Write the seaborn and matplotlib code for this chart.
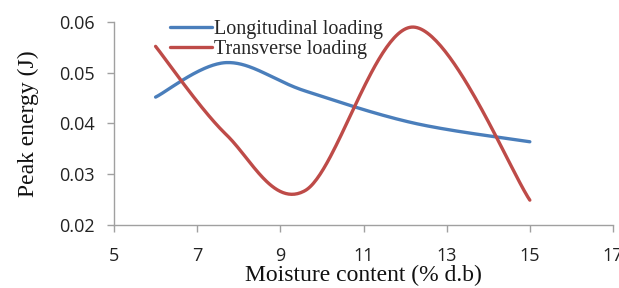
import numpy as np
import pandas as pd
import matplotlib
matplotlib.use('Agg')
import matplotlib.pyplot as plt
import seaborn as sns

# values
moisture = [6.0, 7.7, 9.6, 12.2, 15.0]
longitudinal = [0.0452, 0.0520, 0.0464, 0.0401, 0.0364]
transverse = [0.0552, 0.0378, 0.0268, 0.0590, 0.0249]
x_ticks = [5, 7, 9, 11, 13, 15, 17]
y_ticks = [0.02, 0.03, 0.04, 0.05, 0.06]


def smooth_curve(xs, ys, n=60):
    """Excel-style smoothed line (Catmull-Rom through the data points)"""
    pts = np.column_stack([xs, ys]).astype(float)
    padded = np.vstack([pts[0], pts, pts[-1]])
    t = np.linspace(0, 1, n)[:, None]
    out = []
    for i in range(len(pts) - 1):
        p0, p1, p2, p3 = padded[i], padded[i + 1], padded[i + 2], padded[i + 3]
        b1 = p1 + (p2 - p0) / 6
        b2 = p2 - (p3 - p1) / 6
        seg = ((1 - t) ** 3 * p1 + 3 * (1 - t) ** 2 * t * b1
               + 3 * (1 - t) * t ** 2 * b2 + t ** 3 * p2)
        out.append(seg if i == 0 else seg[1:])
    out = np.vstack(out)
    return out[:, 0], out[:, 1]


frames = []
for name, vals in [('Longitudinal loading', longitudinal),
                   ('Transverse loading', transverse)]:
    sx, sy = smooth_curve(moisture, vals)
    frames.append(pd.DataFrame({'x': sx, 'y': sy, 'series': name}))
df = pd.concat(frames, ignore_index=True)

sns.set_theme(style='white')
plt.rcParams['font.family'] = ['Liberation Serif', 'DejaVu Serif']

fig = plt.figure(figsize=(6.19, 2.88), dpi=100)
ax = fig.add_axes([114 / 619, 1 - 225 / 288, 499 / 619, 203 / 288])

sns.lineplot(data=df, x='x', y='y', hue='series', sort=False, estimator=None,
             palette=['#4a7ebb', '#be4b48'], linewidth=2.4, ax=ax)

ax.set_xlim(5, 17)
ax.set_ylim(0.02, 0.06)
ax.set_xticks(x_ticks)
ax.set_yticks(y_ticks)
ax.set_xticklabels([str(v) for v in x_ticks], family='Open Sans', fontsize=13)
ax.set_yticklabels([f'{v:.2f}' for v in y_ticks], family='Open Sans', fontsize=13)

for side in ['top', 'right']:
    ax.spines[side].set_visible(False)
for side in ['left', 'bottom']:
    ax.spines[side].set_color('#a0a0a0')
    ax.spines[side].set_linewidth(1.0)
ax.tick_params(axis='x', direction='out', length=5, width=1, color='#a0a0a0',
               pad=11, colors='#a0a0a0', labelcolor='#222222')
ax.tick_params(axis='y', direction='out', length=5, width=1, color='#a0a0a0',
               pad=9, colors='#a0a0a0', labelcolor='#222222')
ax.tick_params(left=True, bottom=True)

ax.set_xlabel('Moisture content (% d.b)', fontsize=17, labelpad=0, color='#111111')
ax.set_ylabel('Peak energy (J)', fontsize=17, labelpad=14, color='#111111')

handles, labels = ax.get_legend_handles_labels()
ax.legend(handles, labels, loc='upper left',
          bbox_to_anchor=(170 / 619, 1 - 20 / 288), bbox_transform=fig.transFigure,
          frameon=False, fontsize=14.5, handlelength=2.1, handletextpad=0.1,
          borderpad=0, borderaxespad=0, labelspacing=0.05)

fig.savefig('out.png', dpi=100)
